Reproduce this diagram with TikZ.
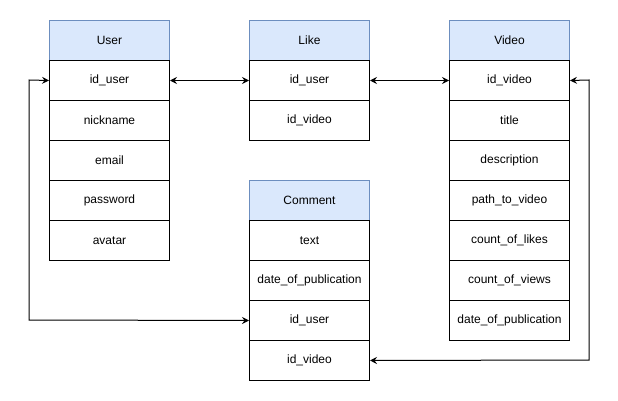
\documentclass[tikz,border=0pt]{standalone}
\usepackage{fontspec}
\setmainfont{Liberation Sans}
\usetikzlibrary{arrows.meta}
\definecolor{hdrfill}{HTML}{DAE8FC}
\definecolor{hdrdraw}{HTML}{6C8EBF}
\begin{document}
\begin{tikzpicture}[x=1pt,y=-1pt,
  cell/.style={draw=black,fill=white,line width=1pt,minimum width=120pt,minimum height=40pt,inner sep=0pt,font=\fontsize{12}{14}\selectfont,anchor=north west},
  hdr/.style={cell,draw=hdrdraw,fill=hdrfill},
  conn/.style={line width=1pt,{Stealth[length=7pt,width=7pt,inset=2.5pt]}-{Stealth[length=7pt,width=7pt,inset=2.5pt]}}]
\useasboundingbox (0,0) rectangle (618,401);
% User
\node[hdr] (uh) at (49,20) {User};
\node[cell] (u1) at (49,60) {id\_user};
\node[cell] (u2) at (49,100) {nickname};
\node[cell] (u3) at (49,140) {email};
\node[cell] (u4) at (49,180) {password};
\node[cell] (u5) at (49,220) {avatar};
% Like
\node[hdr] (lh) at (249,20) {Like};
\node[cell] (l1) at (249,60) {id\_user};
\node[cell] (l2) at (249,100) {id\_video};
% Video
\node[hdr] (vh) at (449,20) {Video};
\node[cell] (v1) at (449,60) {id\_video};
\node[cell] (v2) at (449,100) {title};
\node[cell] (v3) at (449,140) {description};
\node[cell] (v4) at (449,180) {path\_to\_video};
\node[cell] (v5) at (449,220) {count\_of\_likes};
\node[cell] (v6) at (449,260) {count\_of\_views};
\node[cell] (v7) at (449,300) {date\_of\_publication};
% Comment
\node[hdr] (ch) at (249,180) {Comment};
\node[cell] (c1) at (249,220) {text};
\node[cell] (c2) at (249,260) {date\_of\_publication};
\node[cell] (c3) at (249,300) {id\_user};
\node[cell] (c4) at (249,340) {id\_video};
% connectors
\draw[conn] (u1.east) -- (l1.west);
\draw[conn] (l1.east) -- (v1.west);
\coordinate (ul) at (29,80);
\coordinate (ulb) at (29,320);
\draw[conn] (u1.west) -- (ul) -- (ulb) -- (c3.west);
\coordinate (vr) at (589,80);
\coordinate (vrb) at (589,360);
\draw[conn] (v1.east) -- (vr) -- (vrb) -- (c4.east);
\end{tikzpicture}
\end{document}
